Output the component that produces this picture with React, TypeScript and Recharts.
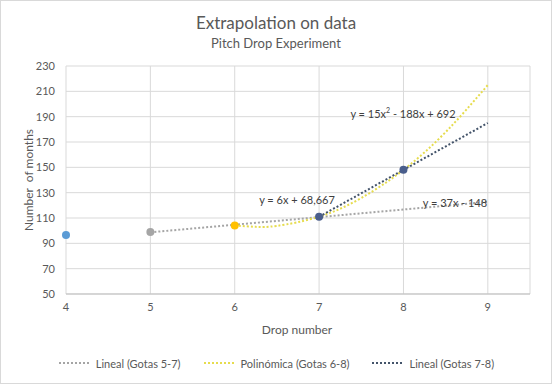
import React from 'react';
import { ComposedChart, Line, Scatter, XAxis, YAxis, CartesianGrid, Cell } from 'recharts';

// measured points (one colour per drop)
const dropX = [4, 5, 6, 7, 8];
const dropMonths = [96.5, 99, 104, 111, 148];
const dropColors = ['#5B9BD5', '#A5A5A5', '#FFC000', '#4A5E8C', '#4A5E8C'];

// trendlines
const lin57X = [5, 6, 7, 8, 9];
const lin57Y = [98.7, 104.7, 110.7, 116.7, 122.7];
const polyX = [6, 6.25, 6.5, 7, 7.5, 8, 8.5, 9];
const polyY = [104, 103, 103.8, 111, 125.8, 148, 177.8, 215];
const lin78X = [7, 8, 9];
const lin78Y = [111, 148, 185];

const xTicks = [4, 5, 6, 7, 8, 9];
const yTicks = [50, 70, 90, 110, 130, 150, 170, 190, 210, 230];

const legendItems = [
  { name: 'Lineal (Gotas 5-7)', color: '#A5A5A5' },
  { name: 'Polinómica (Gotas 6-8)', color: '#E6DC4E' },
  { name: 'Lineal (Gotas 7-8)', color: '#44546A' },
];

const zip = (xs: number[], ys: number[]) => xs.map((x, i) => ({ x, y: ys[i] }));

const points = dropX.map((x, i) => ({ x, y: dropMonths[i], color: dropColors[i] }));
const lin57 = zip(lin57X, lin57Y);
const poly = zip(polyX, polyY);
const lin78 = zip(lin78X, lin78Y);

const FONT = 'Lato, "Open Sans", sans-serif';
const tick = { fontSize: 11, fill: '#595959', fontFamily: FONT };

const Dot = (p: any) => <circle cx={p.cx} cy={p.cy} r={4} fill={p.fill} />;

const txt = (left: number, top: number, size: number, s: string, color = '#404040') => (
  <div
    style={{
      position: 'absolute', left, top, transform: 'translate(-50%, -50%)',
      fontSize: size, color, fontFamily: FONT, whiteSpace: 'nowrap',
    }}
  >
    {s}
  </div>
);

export default function App() {
  return (
    <div style={{ position: 'absolute', left: 0, top: 0, width: 552, height: 384, background: '#fff' }}>
      <ComposedChart width={552} height={384} margin={{ top: 66, right: 22, left: 0, bottom: 60 }}>
        <CartesianGrid stroke="#D9D9D9" />
        <XAxis
          type="number"
          dataKey="x"
          domain={[4, 9.5]}
          ticks={xTicks}
          height={30}
          tick={tick}
          tickLine={false}
          tickSize={0}
          tickMargin={9}
          axisLine={{ stroke: '#BFBFBF' }}
        />
        <YAxis
          type="number"
          domain={[50, 230]}
          ticks={yTicks}
          width={66}
          tick={tick}
          tickLine={false}
          tickSize={0}
          tickMargin={11}
          axisLine={false}
        />
        <Line data={lin57} dataKey="y" stroke="#A5A5A5" strokeWidth={2} strokeDasharray="2 2"
          dot={false} activeDot={false} isAnimationActive={false} />
        <Line data={poly} dataKey="y" type="natural" stroke="#E6DC4E" strokeWidth={2} strokeDasharray="2 2"
          dot={false} activeDot={false} isAnimationActive={false} />
        <Line data={lin78} dataKey="y" stroke="#44546A" strokeWidth={2} strokeDasharray="2 2"
          dot={false} activeDot={false} isAnimationActive={false} />
        <Scatter data={points} dataKey="y" shape={Dot} isAnimationActive={false}>
          {points.map((p, i) => <Cell key={i} fill={p.color} />)}
        </Scatter>
      </ComposedChart>

      {txt(276, 22, 17, 'Extrapolation on data', '#595959')}
      {txt(276, 43, 13, 'Pitch Drop Experiment', '#595959')}
      {txt(297, 329, 12, 'Drop number', '#595959')}
      <div
        style={{
          position: 'absolute', left: 28, top: 180, transform: 'translate(-50%, -50%) rotate(-90deg)',
          fontSize: 12, color: '#595959', fontFamily: FONT, whiteSpace: 'nowrap',
        }}
      >
        Number&nbsp; of months
      </div>

      {txt(297, 199, 11, 'y = 6x + 68,667')}
      {txt(455, 202, 11, 'y = 37x - 148')}
      <div
        style={{
          position: 'absolute', left: 403, top: 113, transform: 'translate(-50%, -50%)',
          fontSize: 11, color: '#404040', fontFamily: FONT, whiteSpace: 'nowrap',
        }}
      >
        y = 15x<sup style={{ fontSize: 7 }}>2</sup> - 188x + 692
      </div>

      <div
        style={{
          position: 'absolute', left: 0, top: 356, width: 552, display: 'flex', justifyContent: 'center',
          gap: 22, fontSize: 11, color: '#595959', fontFamily: FONT,
        }}
      >
        {legendItems.map(l => (
          <div key={l.name} style={{ display: 'flex', alignItems: 'center', gap: 4 }}>
            <svg width={34} height={14}>
              <line x1={1} y1={7} x2={33} y2={7} stroke={l.color} strokeWidth={2} strokeDasharray="2 2" />
            </svg>
            <span>{l.name}</span>
          </div>
        ))}
      </div>

      <div style={{ position: 'absolute', left: 0, top: 0, width: 552, height: 384, boxSizing: 'border-box',
        border: '1px solid #D9D9D9', pointerEvents: 'none' }} />
    </div>
  );
}
